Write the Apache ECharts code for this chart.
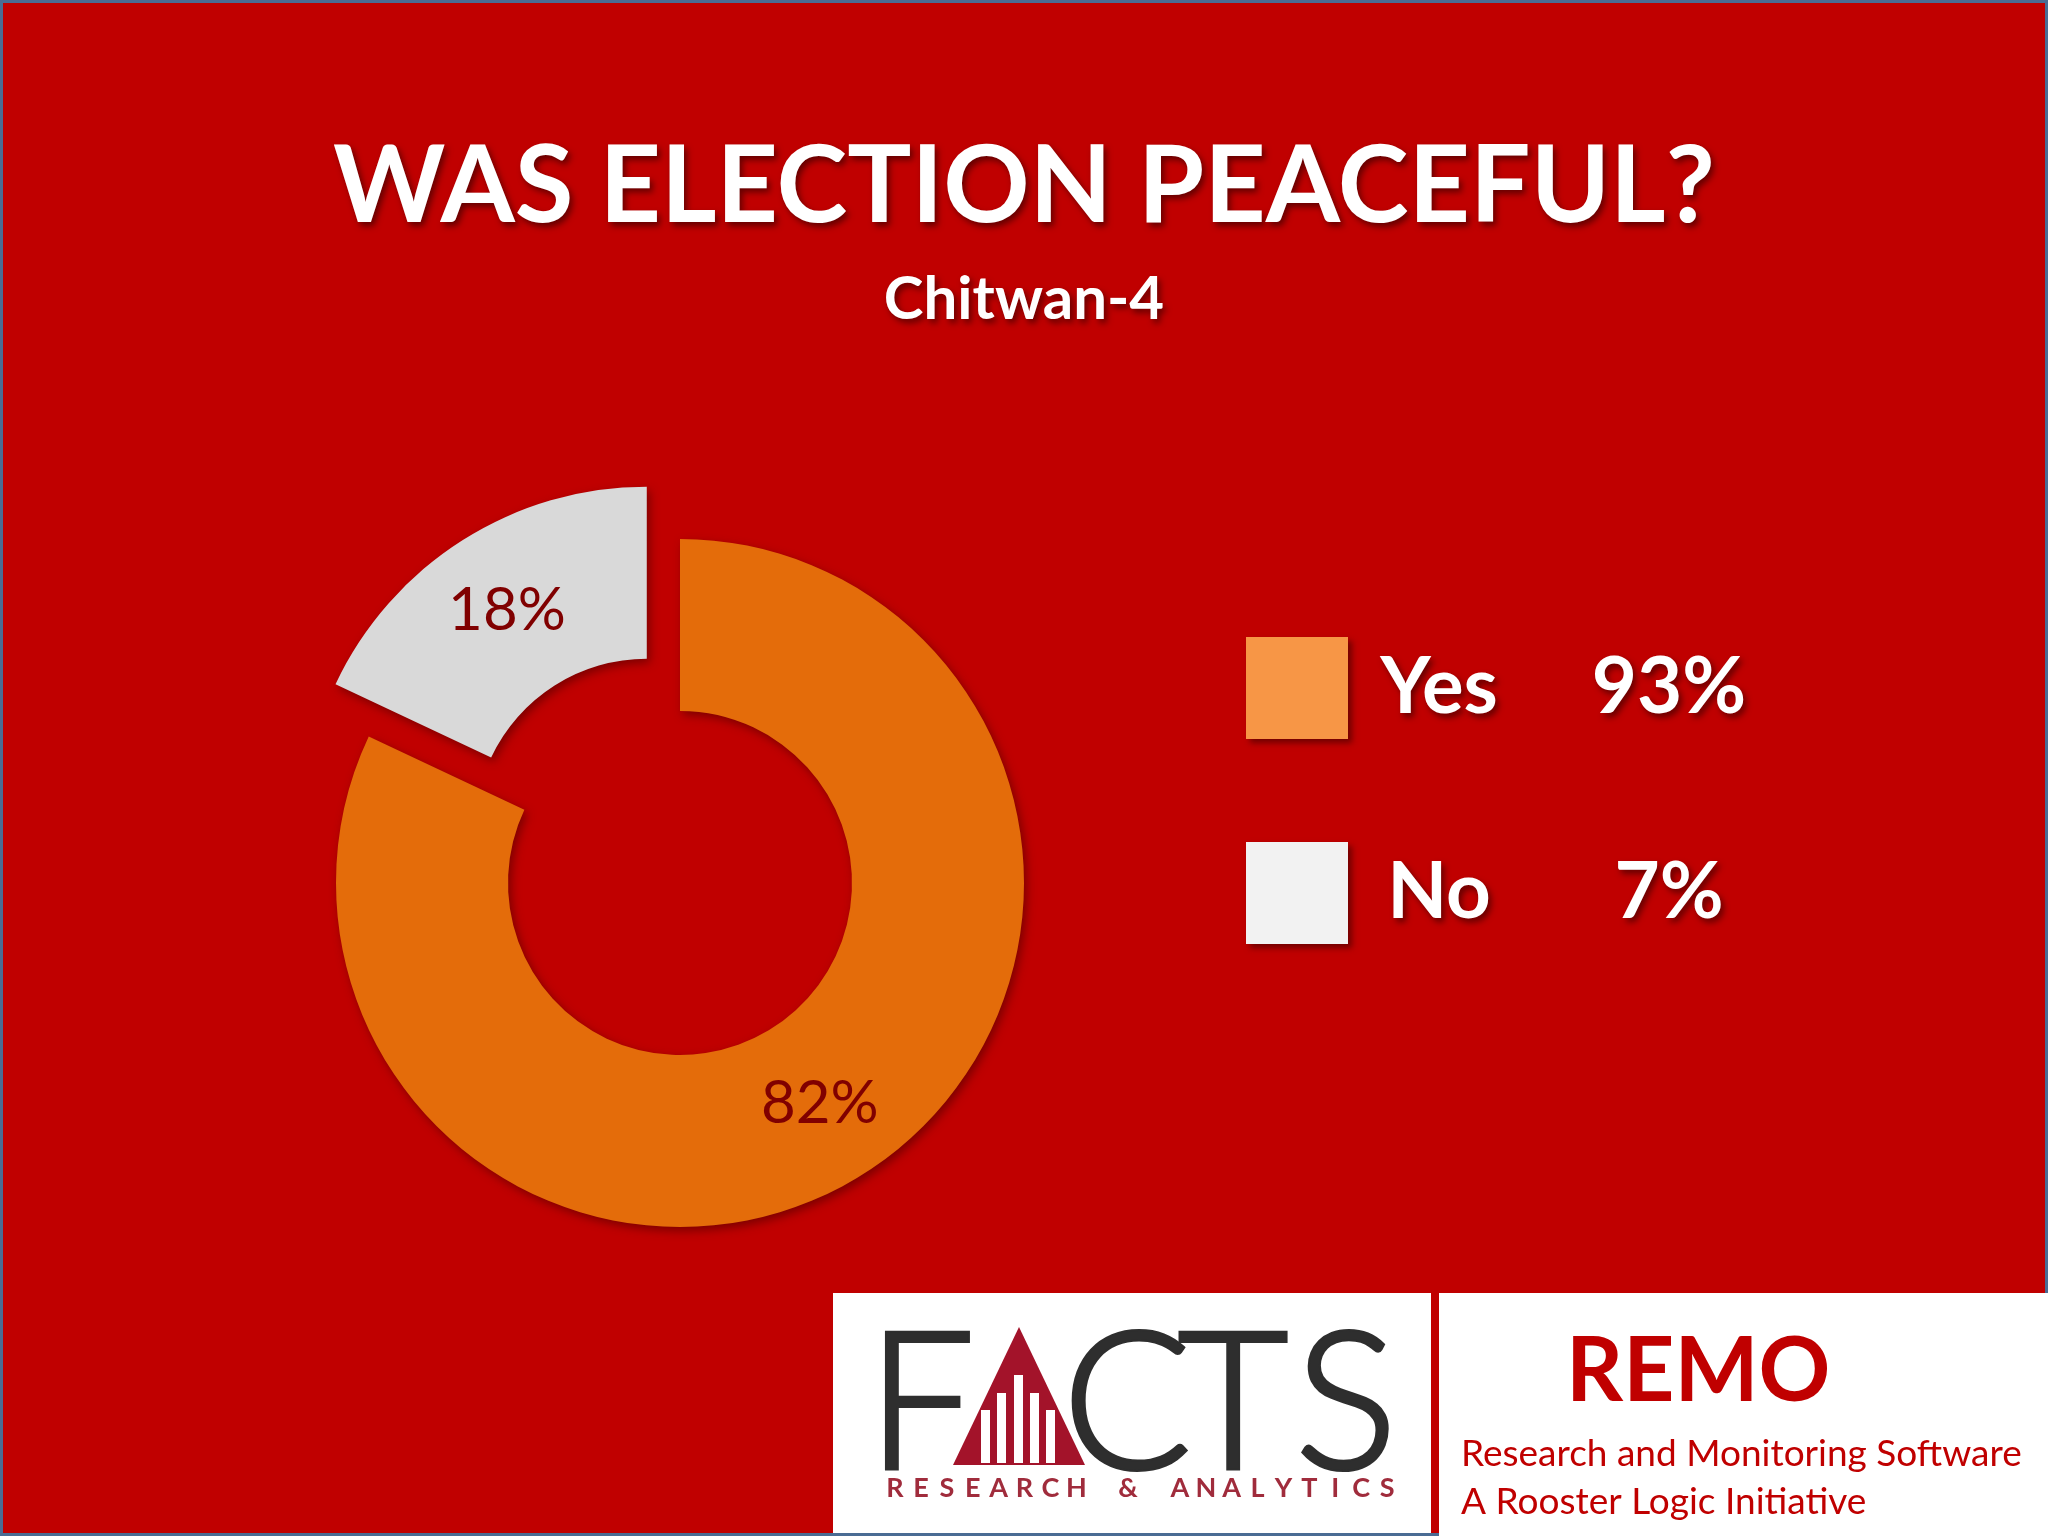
<!DOCTYPE html>
<html>
<head>
<meta charset="utf-8">
<script src="https://cdn.jsdelivr.net/npm/echarts@6/dist/echarts.min.js"></script>
<style>
html,body{margin:0;padding:0;background:#C00000;}
#chart{width:2048px;height:1536px;}
</style>
</head>
<body>
<div id="chart"></div>
<script>
// ---- data ----
const categories = ['Yes', 'No'];
const pieValues = [82, 18];          // values shown on the donut
const legendValues = [93, 7];        // values shown beside the legend
const titleText = 'WAS ELECTION PEACEFUL?';
const subtitleText = 'Chitwan-4';

// ---- styles ----
const sliceColors = ['#E46C0A', '#D9D9D9'];
const legendColors = ['#F79646', '#F2F2F2'];
const FONT = 'Lato';

const chart = echarts.init(document.getElementById('chart'), null, {renderer: 'canvas'});

const shadowText = {
  textShadowColor: 'rgba(70,0,0,0.75)',
  textShadowBlur: 6,
  textShadowOffsetX: 3,
  textShadowOffsetY: 4
};

// FACTS logo sub-title characters, evenly pitched
const factsSub = 'RESEARCH & ANALYTICS'.split('');
const factsSubEls = factsSub.map((ch, i) => ({
  type: 'text', z: 12,
  x: 895 + i * 25.9, y: 1488,
  style: {text: ch, font: 'bold 27px ' + FONT, fill: '#A02C3C', textAlign: 'center', textVerticalAlign: 'middle', verticalAlign: 'middle'}
}));

const bars = [
  {x: 981, top: 1410}, {x: 997, top: 1393}, {x: 1014, top: 1375}, {x: 1030, top: 1393}, {x: 1046, top: 1410}
].map(b => ({
  type: 'rect', z: 12,
  shape: {x: b.x, y: b.top, width: 9, height: 1463 - b.top},
  style: {fill: '#FFFFFF'}
}));

const letters = [
  {t: 'F', x: 921}, {t: 'C', x: 1127}, {t: 'T', x: 1233}, {t: 'S', x: 1346}
].map(l => ({
  type: 'text', z: 12,
  x: l.x, y: 1406,
  style: {text: l.t, font: '300 191px ' + FONT, fill: '#2E2E2E', stroke: '#2E2E2E', lineWidth: 4,
    textAlign: 'center', textVerticalAlign: 'middle', verticalAlign: 'middle'}
}));

const option = {
  backgroundColor: '#C00000',
  animation: false,
  title: [
    {
      text: titleText, left: 'center', top: 134, padding: 0,
      textStyle: Object.assign({fontFamily: FONT, fontWeight: 'bold', fontSize: 107, color: '#FFFFFF'}, shadowText)
    },
    {
      text: subtitleText, left: 'center', top: 270, padding: 0,
      textStyle: Object.assign({fontFamily: FONT, fontWeight: 'bold', fontSize: 60, color: '#FFFFFF'}, shadowText)
    }
  ],
  legend: {
    orient: 'vertical',
    left: 1246, top: 637, padding: 0,
    itemWidth: 102, itemHeight: 102, itemGap: 103,
    icon: 'rect',
    selectedMode: false,
    data: categories.map((c, i) => ({
      name: c,
      itemStyle: {color: legendColors[i], shadowBlur: 6, shadowColor: 'rgba(60,0,0,0.6)', shadowOffsetX: 4, shadowOffsetY: 4}
    })),
    formatter: function (name) {
      const i = categories.indexOf(name);
      return '{n|' + name + '}{v|' + legendValues[i] + '%}';
    },
    textStyle: Object.assign({
      color: '#FFFFFF', fontFamily: FONT, fontWeight: 'bold', fontSize: 78,
      rich: {
        n: Object.assign({width: 172, align: 'center', color: '#FFFFFF', fontFamily: FONT, fontWeight: 'bold', fontSize: 78}, shadowText),
        v: Object.assign({width: 288, align: 'center', color: '#FFFFFF', fontFamily: FONT, fontWeight: 'bold', fontSize: 78}, shadowText)
      }
    }, shadowText)
  },
  series: [{
    type: 'pie',
    center: [680, 883],
    radius: [172, 344],
    startAngle: 90,
    clockwise: true,
    selectedMode: 'single',
    selectedOffset: 62,
    avoidLabelOverlap: false,
    emphasis: {disabled: true, scale: false},
    label: {
      show: true, position: 'inside', formatter: '{c}%',
      fontFamily: FONT, fontSize: 60, color: '#800000', padding: [6, 0, 0, 0]
    },
    labelLine: {show: false},
    itemStyle: {shadowBlur: 10, shadowColor: 'rgba(70,0,0,0.55)', shadowOffsetX: 3, shadowOffsetY: 4},
    data: categories.map((c, i) => ({
      name: c, value: pieValues[i], selected: i === 1,
      itemStyle: {color: sliceColors[i]}
    }))
  }],
  graphic: [
    {type: 'rect', z: 10, shape: {x: 1.5, y: 1.5, width: 2045, height: 1533}, style: {fill: 'none', stroke: '#4A6C94', lineWidth: 3}},
    {type: 'rect', z: 11, shape: {x: 833, y: 1293, width: 598, height: 240}, style: {fill: '#FFFFFF'}},
    {type: 'rect', z: 11, shape: {x: 1439, y: 1293, width: 609, height: 243}, style: {fill: '#FFFFFF'}},
    {type: 'polygon', z: 12, shape: {points: [[1019, 1327], [953, 1465], [1085, 1465]]}, style: {fill: '#A3132A'}},
    ...bars,
    ...letters,
    ...factsSubEls,
    {type: 'text', z: 12, x: 1566, y: 1372,
      style: {text: 'REMO', font: 'bold 89px ' + FONT, fill: '#C00000', textAlign: 'left', textVerticalAlign: 'middle', verticalAlign: 'middle'}},
    {type: 'text', z: 12, x: 1461, y: 1454,
      style: {text: 'Research and Monitoring Software', font: '37px ' + FONT, fill: '#C00000', textAlign: 'left', textVerticalAlign: 'middle', verticalAlign: 'middle'}},
    {type: 'text', z: 12, x: 1461, y: 1502,
      style: {text: 'A Rooster Logic Initiative', font: '37px ' + FONT, fill: '#C00000', textAlign: 'left', textVerticalAlign: 'middle', verticalAlign: 'middle'}}
  ]
};

chart.setOption(option);
</script>
</body>
</html>
